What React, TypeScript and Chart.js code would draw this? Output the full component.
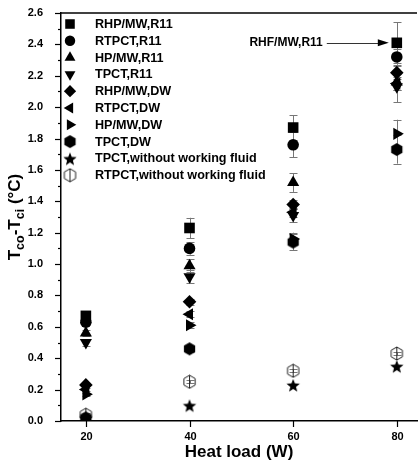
import React, { useEffect, useRef } from 'react';
import { Chart, registerables } from 'chart.js';
Chart.register(...registerables);

// ---------- data ----------
const heatLoads = [20, 40, 60, 80];
const seriesNames = [
  'RHP/MW,R11',
  'RTPCT,R11',
  'HP/MW,R11',
  'TPCT,R11',
  'RHP/MW,DW',
  'RTPCT,DW',
  'HP/MW,DW',
  'TPCT,DW',
  'TPCT,without working fluid',
  'RTPCT,without working fluid',
];
const rhpMwR11 = [0.67, 1.23, 1.87, 2.41];
const rtpctR11 = [0.63, 1.10, 1.76, 2.32];
const hpMwR11 = [0.56, 0.99, 1.52, 2.16];
const tpctR11 = [0.50, 0.92, 1.31, 2.13];
const rhpMwDw = [0.23, 0.76, 1.38, 2.22];
const rtpctDw = [0.20, 0.68, 1.33, 2.15];
const hpMwDw = [0.17, 0.61, 1.16, 1.83];
const tpctDw = [0.02, 0.46, 1.14, 1.73];
const tpctNoFluid = [0.02, 0.10, 0.23, 0.35];
const rtpctNoFluid = [0.04, 0.25, 0.32, 0.43];

const errRhpMwR11 = [0.02, 0.065, 0.08, 0.13];
const errRtpctR11 = [0.02, 0.04, 0.08, 0.05];
const errHpMwR11 = [0.02, 0.04, 0.06, 0.05];
const errTpctR11 = [0.02, 0.04, 0.04, 0.1];
const errRhpMwDw = [0.01, 0.02, 0.03, 0.04];
const errRtpctDw = [0.01, 0.02, 0.03, 0.04];
const errHpMwDw = [0.01, 0.02, 0.04, 0.09];
const errTpctDw = [0.01, 0.02, 0.05, 0.09];
const errTpctNoFluid = [0, 0, 0, 0];
const errRtpctNoFluid = [0.01, 0.01, 0.01, 0.01];

const xTicks = [20, 40, 60, 80];
const yTickStep = 0.2;
const yMinorStep = 0.1;
const annotationText = 'RHF/MW,R11';
const annotationX = 80;
const annotationY = 2.41;

// ---------- marker images ----------
function makeHex(filled: boolean, withLine: boolean, r: number) {
  const size = Math.ceil(r * 2 + 2);
  const c = document.createElement('canvas');
  c.width = size;
  c.height = size;
  const ctx = c.getContext('2d')!;
  const cx = size / 2, cy = size / 2;
  ctx.beginPath();
  for (let i = 0; i < 6; i++) {
    const a = -Math.PI / 2 + (i * Math.PI) / 3;
    const px = cx + r * Math.cos(a);
    const py = cy + r * Math.sin(a);
    if (i === 0) ctx.moveTo(px, py); else ctx.lineTo(px, py);
  }
  ctx.closePath();
  if (filled) {
    ctx.fillStyle = '#000';
    ctx.fill();
  } else {
    ctx.strokeStyle = '#222';
    ctx.lineWidth = 1;
    ctx.stroke();
  }
  if (withLine) {
    ctx.beginPath();
    ctx.moveTo(cx, cy - r);
    ctx.lineTo(cx, cy + r);
    ctx.strokeStyle = '#222';
    ctx.lineWidth = 1;
    ctx.stroke();
  }
  return c;
}
function makeStar(ro: number, ri: number) {
  const size = Math.ceil(ro * 2 + 2);
  const c = document.createElement('canvas');
  c.width = size;
  c.height = size;
  const ctx = c.getContext('2d')!;
  const cx = size / 2, cy = size / 2 + 1;
  ctx.beginPath();
  for (let i = 0; i < 10; i++) {
    const a = -Math.PI / 2 + (i * Math.PI) / 5;
    const rr = i % 2 === 0 ? ro : ri;
    const px = cx + rr * Math.cos(a);
    const py = cy + rr * Math.sin(a);
    if (i === 0) ctx.moveTo(px, py); else ctx.lineTo(px, py);
  }
  ctx.closePath();
  ctx.fillStyle = '#000';
  ctx.fill();
  return c;
}

type MarkerSpec = { style: any; rotation: number; radius: number };

function drawMarker(ctx: CanvasRenderingContext2D, m: MarkerSpec, x: number, y: number) {
  const st = m.style;
  if (typeof st !== 'string') {
    ctx.drawImage(st, x - st.width / 2, y - st.height / 2);
    return;
  }
  const r = m.radius;
  ctx.save();
  ctx.translate(x, y);
  ctx.rotate((m.rotation * Math.PI) / 180);
  ctx.beginPath();
  if (st === 'rect') {
    const s = Math.SQRT1_2 * r;
    ctx.rect(-s, -s, 2 * s, 2 * s);
  } else if (st === 'circle') {
    ctx.arc(0, 0, r, 0, Math.PI * 2);
  } else if (st === 'triangle') {
    for (let i = 0; i < 3; i++) {
      const a = (i * 2 * Math.PI) / 3;
      const px = Math.sin(a) * r, py = -Math.cos(a) * r;
      if (i === 0) ctx.moveTo(px, py); else ctx.lineTo(px, py);
    }
    ctx.closePath();
  } else if (st === 'rectRot') {
    ctx.moveTo(0, -r);
    ctx.lineTo(r, 0);
    ctx.lineTo(0, r);
    ctx.lineTo(-r, 0);
    ctx.closePath();
  }
  ctx.fillStyle = '#000';
  ctx.fill();
  ctx.restore();
}

const FONT = 'Arial, "Liberation Sans", sans-serif';

export default function App() {
  const ref = useRef<HTMLCanvasElement | null>(null);

  useEffect(() => {
    const hexFilled = makeHex(true, false, 6.5);
    const hexOpen = makeHex(false, true, 6.5);
    const star = makeStar(7, 3);

    const markers: MarkerSpec[] = [
      { style: 'rect', rotation: 0, radius: 7.5 },
      { style: 'circle', rotation: 0, radius: 5.8 },
      { style: 'triangle', rotation: 0, radius: 7 },
      { style: 'triangle', rotation: 180, radius: 7 },
      { style: 'rectRot', rotation: 0, radius: 6.8 },
      { style: 'triangle', rotation: 270, radius: 7 },
      { style: 'triangle', rotation: 90, radius: 7 },
      { style: hexFilled, rotation: 0, radius: 6.5 },
      { style: star, rotation: 0, radius: 7 },
      { style: hexOpen, rotation: 0, radius: 6.5 },
    ];
    const seriesValues = [
      rhpMwR11, rtpctR11, hpMwR11, tpctR11, rhpMwDw,
      rtpctDw, hpMwDw, tpctDw, tpctNoFluid, rtpctNoFluid,
    ];
    const seriesErrors = [
      errRhpMwR11, errRtpctR11, errHpMwR11, errTpctR11, errRhpMwDw,
      errRtpctDw, errHpMwDw, errTpctDw, errTpctNoFluid, errRtpctNoFluid,
    ];

    const datasets = seriesNames.map((name, i) => ({
      label: name,
      data: heatLoads.map((x, j) => ({ x, y: seriesValues[i][j] })),
      pointStyle: markers[i].style,
      rotation: markers[i].rotation,
      pointRadius: markers[i].radius,
      pointHoverRadius: markers[i].radius,
      backgroundColor: '#000',
      borderColor: '#000',
      borderWidth: 0,
      showLine: false,
    }));

    const customPlugin = {
      id: 'custom',
      beforeDatasetsDraw(chart: any) {
        const ctx = chart.ctx as CanvasRenderingContext2D;
        const xs = chart.scales.x, ys = chart.scales.y;
        ctx.save();
        ctx.strokeStyle = '#777';
        ctx.lineWidth = 1;
        seriesErrors.forEach((errs, i) => {
          errs.forEach((e, j) => {
            if (!e) return;
            const px = Math.round(xs.getPixelForValue(heatLoads[j])) + 0.5;
            const v = seriesValues[i][j];
            const y1 = ys.getPixelForValue(v - e);
            const y2 = ys.getPixelForValue(v + e);
            ctx.beginPath();
            ctx.moveTo(px, y1);
            ctx.lineTo(px, y2);
            ctx.moveTo(px - 4, Math.round(y1) + 0.5);
            ctx.lineTo(px + 4, Math.round(y1) + 0.5);
            ctx.moveTo(px - 4, Math.round(y2) + 0.5);
            ctx.lineTo(px + 4, Math.round(y2) + 0.5);
            ctx.stroke();
          });
        });
        ctx.restore();
      },
      afterDraw(chart: any) {
        const ctx = chart.ctx as CanvasRenderingContext2D;
        const xs = chart.scales.x, ys = chart.scales.y;
        const ca = chart.chartArea;
        ctx.save();
        // top border
        ctx.strokeStyle = '#000';
        ctx.lineWidth = 1.5;
        ctx.beginPath();
        ctx.moveTo(ca.left, ca.top);
        ctx.lineTo(ca.right, ca.top);
        ctx.stroke();
        // y ticks (major + minor)
        ctx.lineWidth = 1.2;
        const yMax = ys.max;
        for (let k = 0; k * yMinorStep <= yMax + 1e-9; k++) {
          const v = k * yMinorStep;
          const py = Math.round(ys.getPixelForValue(v)) + 0.5;
          const major = Math.abs(v / yTickStep - Math.round(v / yTickStep)) < 1e-6;
          ctx.beginPath();
          ctx.moveTo(ca.left, py);
          ctx.lineTo(ca.left - (major ? 6 : 3), py);
          ctx.stroke();
        }
        // x ticks and labels
        ctx.font = `bold 11px ${FONT}`;
        ctx.fillStyle = '#000';
        ctx.textAlign = 'center';
        ctx.textBaseline = 'middle';
        xTicks.forEach((v) => {
          const px = Math.round(xs.getPixelForValue(v)) + 0.5;
          ctx.beginPath();
          ctx.moveTo(px, ca.bottom);
          ctx.lineTo(px, ca.bottom + 6);
          ctx.stroke();
          ctx.fillText(String(v), px, ca.bottom + 16);
        });
        // legend
        ctx.font = `bold 12.6px ${FONT}`;
        ctx.textAlign = 'left';
        seriesNames.forEach((name, i) => {
          const ly = ca.top + 11 + i * 16.8;
          const lm = { ...markers[i], radius: markers[i].radius * 0.9 };
          drawMarker(ctx, lm, ca.left + 9, ly);
          ctx.fillText(name, ca.left + 34, ly + 0.5);
        });
        // annotation arrow
        const tipX = xs.getPixelForValue(annotationX) - 8;
        const ay = ys.getPixelForValue(annotationY);
        ctx.font = `bold 12px ${FONT}`;
        ctx.textAlign = 'right';
        ctx.fillText(annotationText, tipX - 66, ay);
        ctx.strokeStyle = '#333';
        ctx.lineWidth = 1;
        ctx.beginPath();
        ctx.moveTo(tipX - 62, Math.round(ay) + 0.5);
        ctx.lineTo(tipX - 8, Math.round(ay) + 0.5);
        ctx.stroke();
        ctx.beginPath();
        ctx.moveTo(tipX, ay);
        ctx.lineTo(tipX - 11, ay - 3.5);
        ctx.lineTo(tipX - 11, ay + 3.5);
        ctx.closePath();
        ctx.fill();
        // y title with subscripts
        ctx.save();
        ctx.translate(14, (ca.top + ca.bottom) / 2);
        ctx.rotate(-Math.PI / 2);
        ctx.textAlign = 'left';
        ctx.textBaseline = 'alphabetic';
        const parts: [string, number, number][] = [
          ['T', 17, 0],
          ['co', 12.5, 4],
          ['-T', 17, 0],
          ['ci', 12.5, 4],
          [' (°C)', 17, 0],
        ];
        let total = 0;
        parts.forEach(([t, s]) => {
          ctx.font = `bold ${s}px ${FONT}`;
          total += ctx.measureText(t).width;
        });
        let cx = -total / 2;
        parts.forEach(([t, s, dy]) => {
          ctx.font = `bold ${s}px ${FONT}`;
          ctx.fillText(t, cx, 6 + dy);
          cx += ctx.measureText(t).width;
        });
        ctx.restore();
        ctx.restore();
      },
    };

    const chart = new Chart(ref.current!, {
      type: 'scatter',
      data: { datasets },
      options: {
        animation: false,
        responsive: false,
        layout: { autoPadding: false, padding: { top: 13, right: 1, left: 0, bottom: 0 } },
        plugins: {
          legend: { display: false },
          tooltip: { enabled: false },
        },
        scales: {
          x: {
            type: 'linear',
            min: 15.2,
            max: 83.9,
            afterBuildTicks: (s: any) => {
              s.ticks = xTicks.map((v) => ({ value: v }));
            },
            afterFit: (s: any) => {
              s.height = 42;
              s.paddingLeft = 0;
              s.paddingRight = 0;
            },
            grid: { display: false },
            border: { display: true, color: '#000', width: 1.5 },
            ticks: { display: false },
            title: {
              display: true,
              text: 'Heat load (W)',
              color: '#000',
              font: { family: FONT, size: 17, weight: 'bold' },
              padding: { top: 0, bottom: 0 },
            },
          },
          y: {
            type: 'linear',
            min: 0,
            max: 2.6,
            afterFit: (s: any) => {
              s.width = 61;
              s.paddingTop = 0;
              s.paddingBottom = 0;
            },
            grid: { display: false },
            border: { display: true, color: '#000', width: 1.5 },
            ticks: {
              stepSize: yTickStep,
              color: '#000',
              font: { family: FONT, size: 11, weight: 'bold' },
              padding: 10,
              callback: (v: any) => Number(v).toFixed(1),
            },
          },
        },
      } as any,
      plugins: [customPlugin],
    });
    return () => chart.destroy();
  }, []);

  return (
    <div style={{ position: 'absolute', left: 0, top: 0, width: 418, height: 463, background: '#fff' }}>
      <canvas ref={ref} width={418} height={463} />
    </div>
  );
}
